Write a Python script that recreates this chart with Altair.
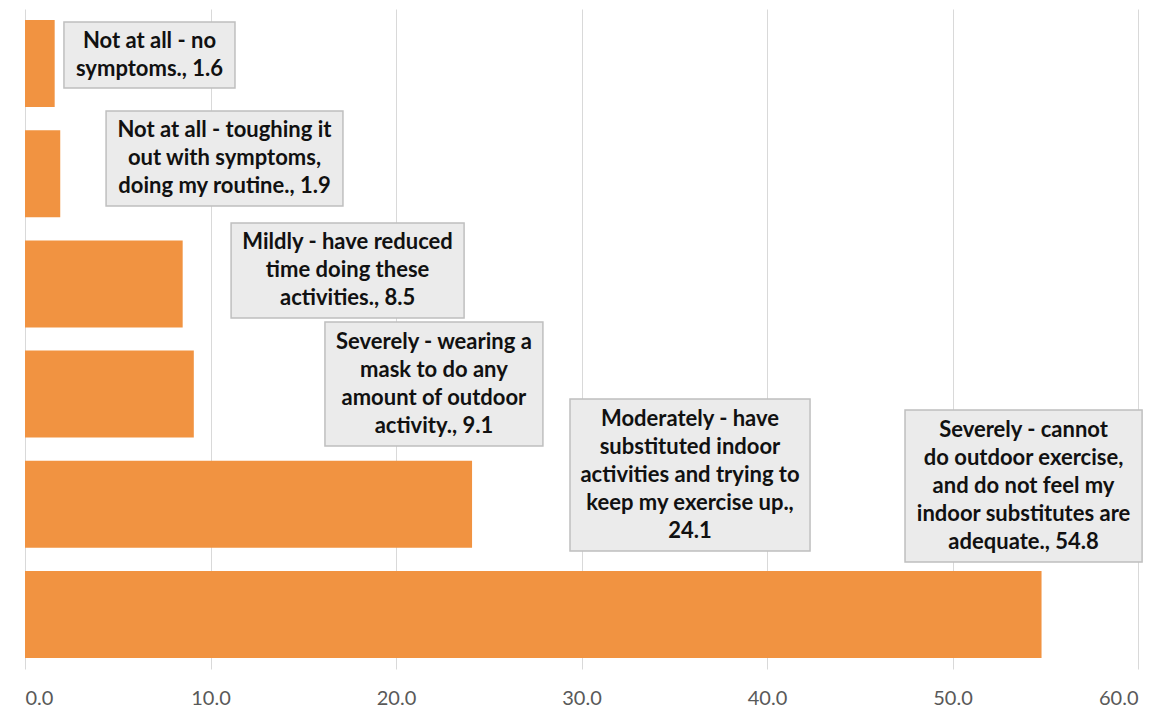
import altair as alt
import pandas as pd

# Survey responses: how poor air quality affects outdoor activity (percent)
categories = [
    "Not at all - no symptoms.",
    "Not at all - toughing it out with symptoms, doing my routine.",
    "Mildly - have reduced time doing these activities.",
    "Severely - wearing a mask to do any amount of outdoor activity.",
    "Moderately - have substituted indoor activities and trying to keep my exercise up.",
    "Severely - cannot do outdoor exercise, and do not feel my indoor substitutes are adequate.",
]
values = [1.6, 1.9, 8.5, 9.1, 24.1, 54.8]

# Wrapped callout text ("|" marks a line break) and where the value goes
wrapped = [
    "Not at all - no|symptoms.",
    "Not at all - toughing it|out with symptoms,|doing my routine.",
    "Mildly - have reduced|time doing these|activities.",
    "Severely - wearing a|mask to do any|amount of outdoor|activity.",
    "Moderately - have|substituted indoor|activities and trying to|keep my exercise up.",
    "Severely - cannot|do outdoor exercise,|and do not feel my|indoor substitutes are|adequate.",
]
value_sep = [" ", " ", " ", " ", "|", " "]

# Callout box layout: x in axis units, y in row units (0 = top of the plot)
box_x0 = [2.10, 4.37, 11.11, 16.17, 29.38, 47.44]
box_x1 = [11.32, 17.14, 23.67, 27.92, 42.32, 60.22]
box_y0 = [0.118, 0.927, 1.945, 2.845, 3.545, 3.645]
box_y1 = [0.718, 1.791, 2.809, 3.973, 4.927, 5.027]

ticks = [0, 10, 20, 30, 40, 50, 60]

LINE_H = 28          # callout line height, px
ROW_PX = 110         # one category row, px

bars_df = pd.DataFrame({"category": categories, "value": values})

texts = [w + "," + s + f"{v:.1f}" for w, s, v in zip(wrapped, value_sep, values)]
callouts = pd.DataFrame({
    "category": categories,
    "text": texts,
    "x0": box_x0, "x1": box_x1, "y0": box_y0, "y1": box_y1,
})
callouts["xc"] = (callouts["x0"] + callouts["x1"]) / 2
# first text line sits above the box centre so the block is centred
n_lines = callouts["text"].str.count(r"\|") + 1
callouts["yt"] = (callouts["y0"] + callouts["y1"]) / 2 - (n_lines - 1) * LINE_H / 2 / ROW_PX

x_scale = alt.Scale(domain=[0, 60], nice=False, zero=True)
x_axis = alt.Axis(
    values=ticks, format=".1f", title=None, grid=True, gridColor="#d9d9d9",
    gridWidth=1, domain=False, ticks=False, labelFontSize=20, labelColor="#595959",
    labelFont="Lato", labelPadding=19,
)

bars = alt.Chart(bars_df).mark_bar(color="#f19341").encode(
    x=alt.X("value:Q", scale=x_scale, axis=x_axis),
    y=alt.Y(
        "category:N", sort=categories, axis=None,
        scale=alt.Scale(paddingInner=0.21, paddingOuter=0.1),
    ),
)

row_scale = alt.Scale(domain=[0, 6], reverse=True, nice=False, zero=False)

boxes = alt.Chart(callouts).mark_rect(
    fill="#ebebeb", stroke="#bfbfbf", strokeWidth=1.5
).encode(
    x=alt.X("x0:Q", scale=x_scale, axis=x_axis),
    x2="x1:Q",
    y=alt.Y("y0:Q", scale=row_scale, axis=None),
    y2="y1:Q",
)

labels = alt.Chart(callouts).mark_text(
    font="Lato", fontWeight="bold", fontSize=22, color="#111111",
    align="center", baseline="middle", lineBreak="|", lineHeight=LINE_H,
).encode(
    x=alt.X("xc:Q", scale=x_scale, axis=x_axis),
    y=alt.Y("yt:Q", scale=row_scale, axis=None),
    text="text:N",
)

chart = (
    alt.layer(bars, alt.layer(boxes, labels))
    .resolve_scale(y="independent")
    .properties(
        width=1113, height=660,
        padding={"left": 25, "top": 9, "right": 24, "bottom": 44},
        autosize=alt.AutoSizeParams(type="none"),
        background="white",
    )
    .configure_view(stroke=None)
)

chart.save("out.html", embed_options={"renderer": "svg", "actions": False})
